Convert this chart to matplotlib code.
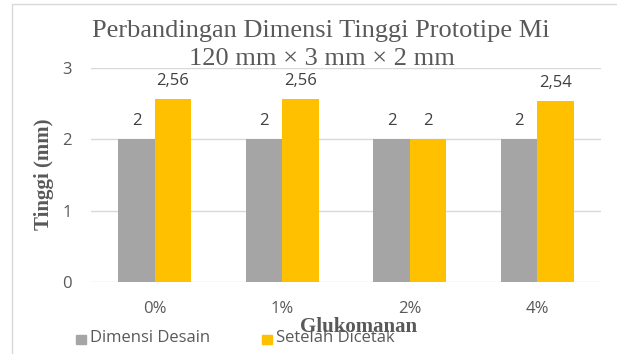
import matplotlib.pyplot as plt
import numpy as np
from matplotlib.patches import Rectangle

# data
kategori = ['0%', '1%', '2%', '4%']
dimensi_desain = [2, 2, 2, 2]
setelah_dicetak = [2.56, 2.56, 2, 2.54]
label_desain = ['2', '2', '2', '2']
label_cetak = ['2,56', '2,56', '2', '2,54']

abu = '#A5A5A5'
kuning = '#FFC000'
teks = '#595959'
sans = ['Open Sans', 'DejaVu Sans']
serif = ['Liberation Serif', 'DejaVu Serif']

W, H = 617, 354
fig = plt.figure(figsize=(W/100, H/100), dpi=100)
ax = fig.add_axes([91/W, 1 - 282/H, (601-91)/W, (282-68)/H])

x_pos = np.arange(len(kategori))
lebar = 0.285
b1 = ax.bar(x_pos - lebar/2, dimensi_desain, lebar, color=abu, zorder=2)
b2 = ax.bar(x_pos + lebar/2, setelah_dicetak, lebar, color=kuning, zorder=2)

for bars, labels in ((b1, label_desain), (b2, label_cetak)):
    for bar, lab in zip(bars, labels):
        ax.annotate(lab, (bar.get_x() + bar.get_width()/2, bar.get_height()),
                    xytext=(0, 10), textcoords='offset points', ha='center',
                    va='baseline', fontsize=12, color='#404040', family=sans)

ax.set_xlim(-0.5, len(kategori) - 0.5)
ax.set_ylim(0, 3)
ax.set_yticks([0, 1, 2, 3])
ax.yaxis.grid(True, color='#D9D9D9', linewidth=1, zorder=0)
ax.tick_params(length=0, labelsize=12, labelcolor=teks, pad=14)
ax.tick_params(axis='x', pad=14)
ax.set_xticks(x_pos)
ax.set_xticklabels(kategori, family=sans)
for lbl in ax.get_yticklabels():
    lbl.set_family(sans)
for s in ax.spines.values():
    s.set_visible(False)

# judul dua baris
fig.text(321/W, 1 - 37/H, 'Perbandingan Dimensi Tinggi Prototipe Mi',
         ha='center', va='baseline', fontsize=19, color=teks, family=serif)
fig.text(322/W, 1 - 65/H, '120 mm \u00d7 3 mm \u00d7 2 mm',
         ha='center', va='baseline', fontsize=19, color=teks, family=serif)
fig.text(44/W, 1 - 174/H, 'Tinggi (mm)', rotation=90, ha='center', va='center',
         fontsize=15, fontweight='bold', color=teks, family=serif)
fig.text(359/W, 1 - 332/H, 'Glukomanan', ha='center', va='baseline',
         fontsize=15, fontweight='bold', color=teks, family=serif)

# legenda
fig.patches.append(Rectangle((76/W, 1 - 344/H), 10/W, 9/H, color=abu,
                             transform=fig.transFigure, figure=fig))
fig.text(90/W, 1 - 342/H, 'Dimensi Desain', ha='left', va='baseline',
         fontsize=12, color=teks, family=sans)
fig.patches.append(Rectangle((262/W, 1 - 344/H), 10/W, 9/H, color=kuning,
                             transform=fig.transFigure, figure=fig))
fig.text(276/W, 1 - 342/H, 'Setelah Dicetak', ha='left', va='baseline',
         fontsize=12, color=teks, family=sans)

# bingkai grafik
fig.patches.append(Rectangle((12/W, -0.01), 1.1, 1 - 4/H + 0.01, fill=False,
                             edgecolor='#D9D9D9', linewidth=1,
                             transform=fig.transFigure, figure=fig))

fig.savefig('out.png', dpi=100)
